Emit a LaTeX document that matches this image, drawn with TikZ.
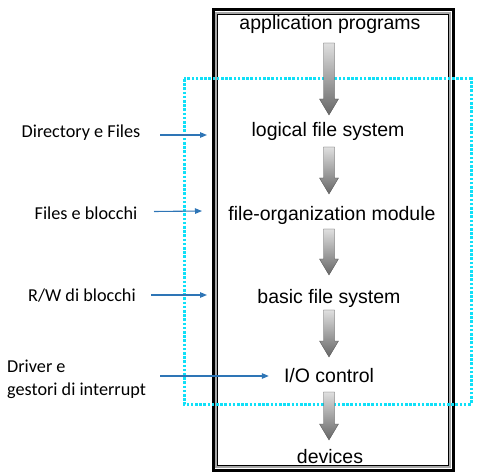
\documentclass[tikz,border=0pt]{standalone}
\usepackage{fontspec}
\setmainfont{Liberation Sans}
\newfontfamily\calibri{Carlito}
\usetikzlibrary{calc,arrows.meta}
\definecolor{cyanbox}{HTML}{10E0F8}
\definecolor{labelblue}{HTML}{2E75B6}
\tikzset{
  layer/.style={font=\fontsize{19.5}{22}\selectfont, inner sep=0pt, anchor=base},
  side/.style={font=\calibri\fontsize{18.2}{23}\selectfont, inner sep=0pt, align=left},
  pointer/.style={draw=labelblue, line width=1.1pt, -{Triangle[length=7pt,width=5.5pt]}},
  fatarrow/.style={top color=gray!25, bottom color=gray!80!black, draw=gray!60!black, line width=0.3pt},
}
\begin{document}
\begin{tikzpicture}[x=1pt,y=-1pt]
\useasboundingbox (0,0) rectangle (488,476);
% outer frame
\draw[black, line width=3pt] (213,10) rectangle (453,470);
\draw[gray!70, line width=1.6pt] (216,13) rectangle (450,467);
\draw[black, line width=0.6pt] (217.5,14.5) rectangle (448.5,465.5);
% dotted cyan box
\draw[cyanbox, line width=3pt, dash pattern=on 2.6pt off 1.6pt] (184,79) rectangle (471,404);
% layer texts
\node[layer] (app) at (330,30) {application programs};
\node[layer] (lfs) at (328,137) {logical file system};
\node[layer] (fom) at (332,221) {file-organization module};
\node[layer] (bfs) at (329,303) {basic file system};
\node[layer] (ioc) at (329,382) {I/O control};
\node[layer] (dev) at (330,463) {devices};
% fat arrows: #3 = gap below source baseline, #4 = gap above target baseline
\newcommand{\fatarr}[4]{%
  \path[fatarrow] let \p1=(#1.base), \p2=(#2.base) in
    (329-5.5,\y1-#3) -- (329+5.5,\y1-#3) -- (329+5.5,\y2+#4+16) -- (329+9.5,\y2+#4+16)
    -- (329,\y2+#4) -- (329-9.5,\y2+#4+16) -- (329-5.5,\y2+#4+16) -- cycle;}
\fatarr{app}{lfs}{13}{22}
\fatarr{lfs}{fom}{10}{27}
\fatarr{fom}{bfs}{8}{28}
\fatarr{bfs}{ioc}{7}{25}
\fatarr{ioc}{dev}{10}{23}
% side labels
\node[side] (dir) at (81,133) {Directory e Files};
\node[side] (fab) at (86,213) {Files e blocchi};
\node[side] (rw) at (82,296) {R/W di blocchi};
\node[side, anchor=west] (drv) at (7,379) {Driver e\\gestori di interrupt};
\coordinate (dirS) at (160,135);
\coordinate (dirE) at (207,135);
\coordinate (fabS) at (154,211.5);
\coordinate (fabE) at (202,211);
\coordinate (rwS) at (151,295);
\coordinate (rwE) at (207,295);
\coordinate (drvS) at (160,376);
\draw[pointer] (dirS) -- (dirE);
\draw[pointer] (fabS) -- (fabE);
\draw[pointer] (rwS) -- (rwE);
\draw[pointer] (drvS) -- ($(drvS -| ioc.west)+(-15,0)$);
\end{tikzpicture}
\end{document}
